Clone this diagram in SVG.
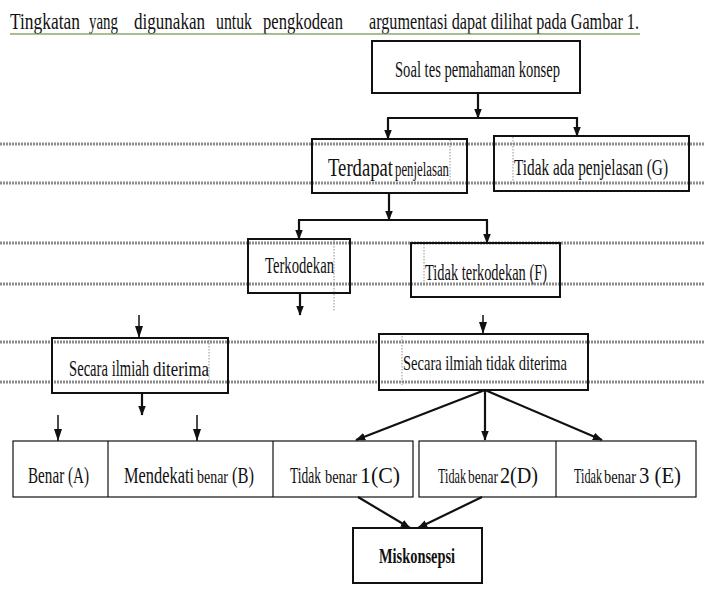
<svg xmlns="http://www.w3.org/2000/svg" width="705" height="594" viewBox="0 0 705 594">
<style>
.t{fill:#111}
.bx{fill:none;stroke:#111;stroke-width:2}
.bxt{fill:none;stroke:#111;stroke-width:1.2}
.grid{stroke:#8c8c8c;stroke-width:3;stroke-dasharray:2 1}
.dot{stroke:#777;stroke-width:0.8;stroke-dasharray:1.5 1.5;fill:none}
.c{stroke:#111;stroke-width:2.2;fill:none}
.cs{stroke:#111;stroke-width:1.5;fill:none}
</style>
<defs>
<marker id="ah" markerUnits="userSpaceOnUse" markerWidth="10" markerHeight="16" refX="12" refY="5" viewBox="0 0 13 10" orient="auto">
<path d="M0,0 L13,5 L0,10 z" fill="#111"/>
</marker>
<marker id="as" markerUnits="userSpaceOnUse" markerWidth="12" markerHeight="10" refX="12" refY="4" viewBox="0 0 12 8" orient="auto">
<path d="M0,0 L12,4 L0,8 z" fill="#111"/>
</marker>
<pattern id="wave" x="0" y="0" width="4" height="4" patternUnits="userSpaceOnUse">
<path d="M0,3 L1,1 L2,3 L3,1 L4,3" stroke="#7a9a5a" stroke-width="0.8" fill="none"/>
</pattern>
</defs>

<g font-family="'Liberation Serif', 'Times New Roman', serif" class="t">
<g id="title">
<text font-size="23" x="10" y="29" textLength="70" lengthAdjust="spacingAndGlyphs">Tingkatan</text>
<text font-size="23" x="89" y="29" textLength="29" lengthAdjust="spacingAndGlyphs">yang</text>
<text font-size="23" x="134" y="29" textLength="71" lengthAdjust="spacingAndGlyphs">digunakan</text>
<text font-size="23" x="216" y="29" textLength="36" lengthAdjust="spacingAndGlyphs">untuk</text>
<text font-size="23" x="263" y="29" textLength="80" lengthAdjust="spacingAndGlyphs">pengkodean</text>
<text font-size="23" x="369" y="29" textLength="270" lengthAdjust="spacingAndGlyphs">argumentasi dapat dilihat pada Gambar 1.</text>
<rect x="10" y="32" width="630" height="4" fill="url(#wave)"/>
</g>

<g id="gridlines">
<line class="grid" x1="0" y1="144" x2="705" y2="144"/>
<line class="grid" x1="0" y1="183" x2="705" y2="183"/>
<line class="grid" x1="0" y1="243" x2="705" y2="243"/>
<line class="grid" x1="0" y1="284" x2="705" y2="284"/>
<line class="grid" x1="0" y1="342" x2="705" y2="342"/>
<line class="grid" x1="0" y1="382" x2="705" y2="382"/>
</g>

<g id="n-soal">
<rect class="bx" x="372" y="41" width="208" height="52"/>
<text font-size="23" x="395" y="77" textLength="165" lengthAdjust="spacingAndGlyphs">Soal tes pemahaman konsep</text>
</g>

<g id="n-terdapat">
<rect class="bx" x="312" y="139" width="155" height="54"/>
<line class="bx" x1="312" y1="139" x2="467" y2="139" stroke-width="3"/>
<line class="dot" x1="450" y1="140" x2="450" y2="184"/>
<text font-size="25" x="328" y="176" textLength="65" lengthAdjust="spacingAndGlyphs">Terdapat</text>
<text font-size="20" x="395" y="176" textLength="54" lengthAdjust="spacingAndGlyphs">penjelasan</text>
</g>

<g id="n-tidakada">
<rect class="bx" x="494" y="136" width="195" height="55"/>
<line class="dot" x1="513" y1="137" x2="513" y2="184"/>
<text font-size="24" x="514" y="175" textLength="154" lengthAdjust="spacingAndGlyphs">Tidak ada penjelasan (G)</text>
</g>

<g id="n-terkodekan">
<rect class="bx" x="248" y="239" width="102" height="54"/>
<line class="dot" x1="334" y1="240" x2="334" y2="311"/>
<text font-size="23" x="265" y="273" textLength="69" lengthAdjust="spacingAndGlyphs">Terkodekan</text>
</g>

<g id="n-tidakterkodekan">
<rect class="bx" x="411" y="243" width="149" height="54"/>
<line class="dot" x1="424" y1="244" x2="424" y2="285"/>
<text font-size="23" x="425" y="280" textLength="122" lengthAdjust="spacingAndGlyphs">Tidak terkodekan (F)</text>
</g>

<g id="n-ilmiah">
<rect class="bx" x="52" y="338" width="176" height="55"/>
<line class="dot" x1="209" y1="340" x2="209" y2="383"/>
<text font-size="24" x="69" y="376" textLength="80" lengthAdjust="spacingAndGlyphs">Secara ilmiah</text>
<text font-size="20" x="153" y="376" textLength="56" lengthAdjust="spacingAndGlyphs">diterima</text>
</g>

<g id="n-tidakilmiah">
<rect class="bx" x="379" y="334" width="209" height="56"/>
<line class="dot" x1="402" y1="336" x2="402" y2="385"/>
<text font-size="22" x="403" y="370" textLength="164" lengthAdjust="spacingAndGlyphs">Secara ilmiah tidak diterima</text>
</g>

<g id="n-row1">
<rect class="bxt" x="13" y="441" width="400" height="56"/>
<line class="bxt" x1="108" y1="441" x2="108" y2="497"/>
<line class="bxt" x1="273" y1="441" x2="273" y2="497"/>
</g>
<g id="n-A"><text font-size="23" x="28" y="483" textLength="61" lengthAdjust="spacingAndGlyphs">Benar (A)</text></g>
<g id="n-B">
<text font-size="23" x="124" y="483" textLength="70" lengthAdjust="spacingAndGlyphs">Mendekati</text>
<text font-size="19" x="197" y="483" textLength="31" lengthAdjust="spacingAndGlyphs">benar</text>
<text font-size="23" x="232" y="483" textLength="22" lengthAdjust="spacingAndGlyphs">(B)</text>
</g>
<g id="n-C">
<text font-size="23" x="290" y="483" textLength="31" lengthAdjust="spacingAndGlyphs">Tidak</text>
<text font-size="19" x="325" y="483" textLength="32" lengthAdjust="spacingAndGlyphs">benar</text>
<text font-size="23" x="360" y="483" textLength="40" lengthAdjust="spacingAndGlyphs">1(C)</text>
</g>

<g id="n-row2">
<rect class="bxt" x="419" y="441" width="277" height="56"/>
<line class="bxt" x1="556" y1="441" x2="556" y2="497"/>
</g>
<g id="n-D">
<text font-size="21" x="438" y="483" textLength="28" lengthAdjust="spacingAndGlyphs">Tidak</text>
<text font-size="18" x="468" y="483" textLength="30" lengthAdjust="spacingAndGlyphs">benar</text>
<text font-size="23" x="500" y="483" textLength="38" lengthAdjust="spacingAndGlyphs">2(D)</text>
</g>
<g id="n-E">
<text font-size="21" x="574" y="483" textLength="28" lengthAdjust="spacingAndGlyphs">Tidak</text>
<text font-size="18" x="604" y="483" textLength="32" lengthAdjust="spacingAndGlyphs">benar</text>
<text font-size="23" x="639" y="483" textLength="42" lengthAdjust="spacingAndGlyphs">3 (E)</text>
</g>

<g id="n-miskonsepsi">
<rect class="bx" x="353" y="528" width="129" height="55"/>
<text font-size="20" font-weight="bold" x="379" y="563" textLength="76" lengthAdjust="spacingAndGlyphs">Miskonsepsi</text>
</g>
</g>

<g id="connectors">
<line class="c" x1="478" y1="93" x2="478" y2="118" marker-end="url(#ah)"/>
<line class="c" x1="387" y1="118" x2="578" y2="118"/>
<line class="c" x1="388" y1="118" x2="388" y2="139" marker-end="url(#ah)"/>
<line class="c" x1="577" y1="118" x2="577" y2="136" marker-end="url(#ah)"/>
<line class="c" x1="389" y1="193" x2="389" y2="220" marker-end="url(#ah)"/>
<line class="c" x1="298" y1="220" x2="488" y2="220"/>
<line class="c" x1="299" y1="220" x2="299" y2="239" marker-end="url(#ah)"/>
<line class="c" x1="487" y1="220" x2="487" y2="243" marker-end="url(#ah)"/>
<line class="c" x1="300" y1="293" x2="300" y2="315" marker-end="url(#ah)"/>
<line class="cs" x1="139" y1="315" x2="139" y2="338" marker-end="url(#as)"/>
<line class="cs" x1="483" y1="315" x2="483" y2="334" marker-end="url(#as)"/>
<line class="c" x1="142" y1="393" x2="142" y2="415" marker-end="url(#ah)"/>
<line class="cs" x1="58" y1="415" x2="58" y2="441" marker-end="url(#as)"/>
<line class="cs" x1="197" y1="415" x2="197" y2="441" marker-end="url(#as)"/>
<line class="c" x1="485" y1="390" x2="356" y2="440" marker-end="url(#ah)"/>
<line class="c" x1="485" y1="390" x2="485" y2="440" marker-end="url(#ah)"/>
<line class="c" x1="485" y1="390" x2="602" y2="440" marker-end="url(#ah)"/>
<line class="c" x1="358" y1="497" x2="410" y2="528" marker-end="url(#ah)"/>
<line class="c" x1="482" y1="497" x2="418" y2="528" marker-end="url(#ah)"/>
</g>
</svg>
